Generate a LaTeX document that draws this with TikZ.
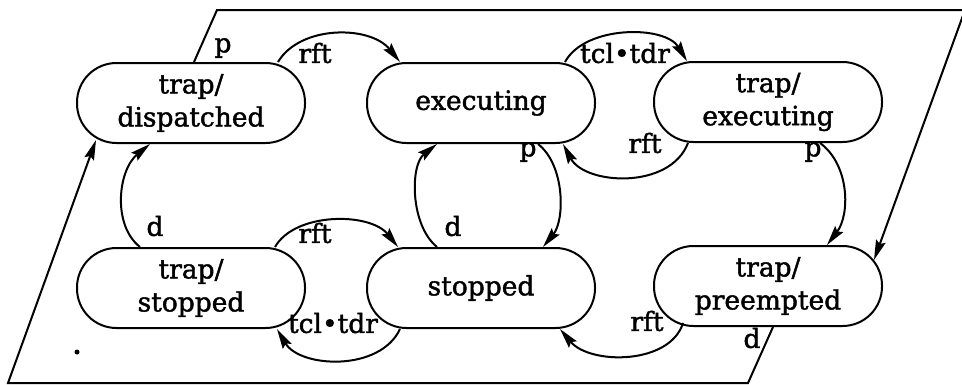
\documentclass[tikz,border=0pt]{standalone}
\usepackage{fontspec}
\setmainfont{DejaVu Serif}[BoldFont=DejaVu Serif,BoldFeatures={FakeBold=1.6}]
\usetikzlibrary{calc,arrows.meta}
\begin{document}
\begin{tikzpicture}[x=1pt,y=-1pt,line width=2pt,
  state/.style={draw,rectangle,rounded corners=39.5pt,minimum width=228pt,minimum height=80pt,
    align=center,inner sep=0pt,font=\fontsize{26.5}{33}\selectfont\bfseries},
  lbl/.style={font=\fontsize{26.5}{33}\selectfont\bfseries,inner sep=0pt},
  arr/.style={-{Stealth[length=20pt,width=10pt,inset=3pt]}}]
\useasboundingbox (0,0) rectangle (962,384);

\node[state] (td) at (191,103) {trap/\\dispatched};
\node[state] (ex) at (481,103) {executing};
\node[state] (te) at (768,102) {trap/\\executing};
\node[state] (ts) at (191,288) {trap/\\stopped};
\node[state] (st) at (481,288) {stopped};
\node[state] (tp) at (768,286) {trap/\\preempted};

% frame
\coordinate (c1) at (217,10);
\coordinate (c2) at (965,10);
\coordinate (c3) at (748,383);
\coordinate (c4) at (8,383);
\draw[arr] ($(td.north)+(3,0)$) -- (c1) -- (c2) -- ($(tp.east)+(-9,-26)$);
\draw[arr] ($(tp.south)+(5,0)$) -- (c3) -- (c4) -- ($(td.west)+(20,37)$);
\node[lbl] (lp1) at (223,48) {p};
\node[lbl] (ld1) at (752,338) {d};

% top row
\draw[arr] ($(td.north)+(87,0)$) .. controls (300,25) and (370,25) .. ($(ex.north)+(-81,0)$);
\node[lbl] (lr1) at (315,53) {rft};
\draw[arr] ($(ex.north)+(84,0)$) .. controls (585,25) and (665,25) .. ($(te.north)+(-81,0)$);
\node[lbl] (lt1) at (625,53) {tcl•tdr};
\draw[arr] ($(te.south)+(-80,0)$) .. controls (670,190) and (585,185) .. ($(ex.south)+(82,0)$);
\node[lbl] (lr2) at (645,143) {rft};

% verticals
\draw[arr] ($(ex.south)+(57,0)$) .. controls (565,165) and (565,220) .. ($(st.north)+(62,0)$);
\node[lbl] (lp2) at (528,152) {p};
\draw[arr] ($(st.north)+(-44,0)$) .. controls (410,225) and (410,165) .. ($(ex.south)+(-44,0)$);
\node[lbl] (ld2) at (453,226) {d};
\draw[arr] ($(ts.north)+(-51,0)$) .. controls (112,225) and (118,170) .. ($(td.south)+(-41,0)$);
\node[lbl] (ld3) at (155,226) {d};
\draw[arr] ($(te.south)+(52,0)$) .. controls (850,165) and (850,215) .. ($(tp.north)+(59,0)$);
\node[lbl] (lp3) at (813,152) {p};

% bottom row
\draw[arr] ($(ts.north)+(84,0)$) .. controls (295,212) and (370,212) .. ($(st.north)+(-83,0)$);
\node[lbl] (lr3) at (315,233) {rft};
\draw[arr] ($(st.south)+(-81,0)$) .. controls (380,372) and (300,368) .. ($(ts.south)+(86,0)$);
\node[lbl] (lt2) at (333,323) {tcl•tdr};
\draw[arr] ($(tp.south)+(-85,-4)$) .. controls (670,365) and (590,365) .. ($(st.south)+(79,0)$);
\node[lbl] (lr4) at (647,321) {rft};

\fill (77,352) circle (2.5pt);
\end{tikzpicture}
\end{document}
